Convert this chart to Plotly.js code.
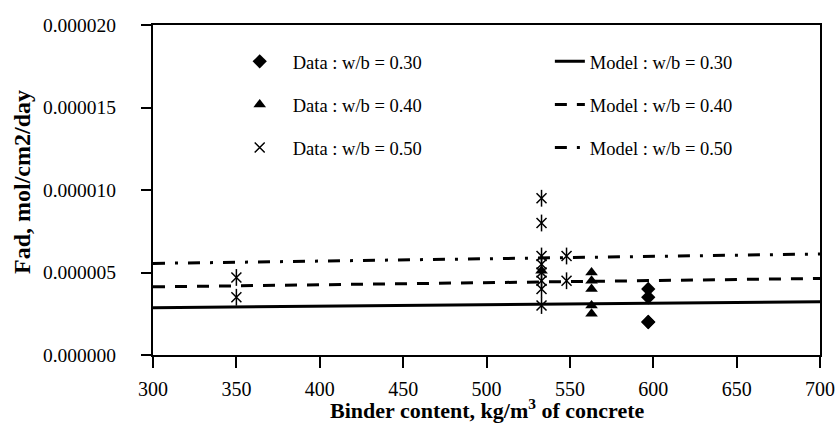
<!DOCTYPE html>
<html>
<head>
<meta charset="utf-8">
<script src="https://cdn.plot.ly/plotly-3.0.1.min.js"></script>
<style>html,body{margin:0;padding:0;background:#fff;}#chart{width:837px;height:437px;}</style>
</head>
<body>
<div id="chart"></div>
<script>
// Data
const data030X = [597, 597, 597, 597];
const data030Y = [0.0000040, 0.0000035, 0.0000020, 0.0000020];

const data040X = [563, 563, 563, 563, 563, 533];
const data040Y = [0.0000050, 0.0000045, 0.0000040, 0.0000030, 0.0000025, 0.0000051];

const data050X = [350, 350, 533, 533, 533, 533, 533, 533, 533, 533, 548, 548];
const data050Y = [0.0000047, 0.0000035, 0.0000095, 0.0000080, 0.0000060, 0.0000055, 0.0000050, 0.0000045, 0.0000040, 0.0000030, 0.0000060, 0.0000045];

const modelX = [300, 700];
const model030Y = [0.00000287, 0.00000322];
const model040Y = [0.00000413, 0.00000464];
const model050Y = [0.00000555, 0.00000612];

const xTicks = [300, 350, 400, 450, 500, 550, 600, 650, 700];
const yTicks = [0, 0.000005, 0.00001, 0.000015, 0.00002];
const yTickText = ['0.000000', '0.000005', '0.000010', '0.000015', '0.000020'];

const FONT = 'Liberation Serif';

const traces = [
  {x: data030X, y: data030Y, type: 'scatter', mode: 'markers', name: 'Data : w/b = 0.30',
   marker: {symbol: 'diamond', size: 11, color: '#000'}, legend: 'legend', legendgroup: 'd30'},
  {x: data040X, y: data040Y, type: 'scatter', mode: 'markers', name: 'Data : w/b = 0.40',
   marker: {symbol: 'triangle-up', size: 11, color: '#000'}, legend: 'legend', legendgroup: 'd40'},
  {x: data050X, y: data050Y, type: 'scatter', mode: 'markers', name: 'Data : w/b = 0.50',
   marker: {symbol: 'x-thin-open', size: 10, color: '#000', line: {width: 1.5, color: '#000'}}, legend: 'legend', legendgroup: 'd50'},
  {x: data050X, y: data050Y, type: 'scatter', mode: 'markers', name: 'Data : w/b = 0.50', showlegend: false,
   marker: {symbol: 'line-ns-open', size: 12, color: '#000', line: {width: 1.5, color: '#000'}}, legend: 'legend', legendgroup: 'd50'},
  {x: modelX, y: model030Y, type: 'scatter', mode: 'lines', name: 'Model : w/b = 0.30',
   line: {color: '#000', width: 3, dash: 'solid'}, legend: 'legend2', legendgroup: 'm30'},
  {x: modelX, y: model040Y, type: 'scatter', mode: 'lines', name: 'Model : w/b = 0.40',
   line: {color: '#000', width: 3, dash: '12px,10px'}, legend: 'legend2', legendgroup: 'm40'},
  {x: modelX, y: model050Y, type: 'scatter', mode: 'lines', name: 'Model : w/b = 0.50',
   line: {color: '#000', width: 3, dash: '12px,10px,3px,10px'}, legend: 'legend2', legendgroup: 'm50'}
];

const legendCommon = {
  font: {family: FONT, size: 18.5, color: '#000'},
  bgcolor: 'rgba(0,0,0,0)',
  borderwidth: 0,
  tracegroupgap: 16,
  yanchor: 'top',
  xanchor: 'left'
};

const layout = {
  width: 837, height: 437,
  margin: {l: 153, r: 17, t: 25, b: 82},
  paper_bgcolor: '#fff', plot_bgcolor: '#fff',
  font: {family: FONT, size: 18, color: '#000'},
  xaxis: {
    range: [300, 700], tickvals: xTicks, ticktext: xTicks.map(String),
    showgrid: false, zeroline: false,
    showline: true, linecolor: '#000', linewidth: 2, mirror: true,
    ticks: 'outside', ticklen: 11, tickwidth: 2, tickcolor: '#000',
    ticklabelstandoff: 4,
    tickfont: {family: FONT, size: 20, color: '#000'}
  },
  yaxis: {
    range: [0, 0.00002], tickvals: yTicks, ticktext: yTickText,
    showgrid: false, zeroline: false,
    showline: true, linecolor: '#000', linewidth: 2, mirror: true,
    ticks: 'outside', ticklen: 10, tickwidth: 2, tickcolor: '#000',
    ticklabelstandoff: 21,
    tickfont: {family: FONT, size: 19.5, color: '#000'}
  },
  showlegend: true,
  legend: Object.assign({}, legendCommon, {x: 0.1105, y: 0.946, itemwidth: 56}),
  legend2: Object.assign({}, legendCommon, {x: 0.595, y: 0.946}),
  annotations: [
    {text: '<b>Binder content, kg/m<sup>3</sup> of concrete</b>', xref: 'paper', yref: 'paper',
     x: 0.5, y: (355 - 409) / 330, xanchor: 'center', yanchor: 'middle', showarrow: false,
     font: {family: FONT, size: 22, color: '#000'}},
    {text: '<b>Fad, mol/cm2/day</b>', xref: 'paper', yref: 'paper', textangle: -90,
     x: (22 - 153) / 667, y: (355 - 182) / 330, xanchor: 'center', yanchor: 'middle', showarrow: false,
     font: {family: FONT, size: 24, color: '#000'}}
  ]
};

Plotly.newPlot('chart', traces, layout, {displayModeBar: false, staticPlot: true});
</script>
</body>
</html>
